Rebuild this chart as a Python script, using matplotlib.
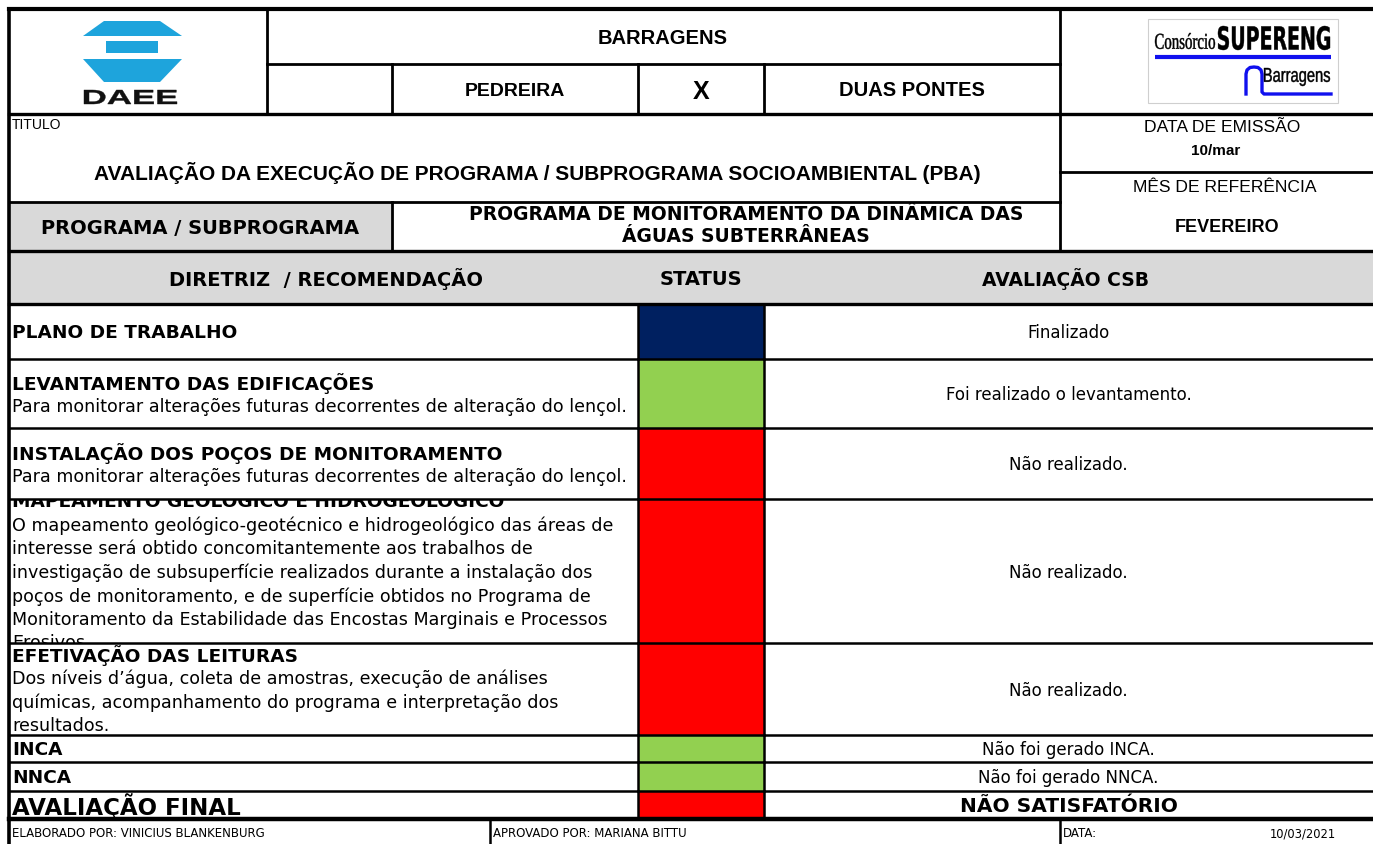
import matplotlib
matplotlib.use("Agg")
import matplotlib.pyplot as plt
from matplotlib.patches import Rectangle, Polygon, PathPatch
from matplotlib.textpath import TextPath
from matplotlib.font_manager import FontProperties
from matplotlib.transforms import Affine2D

plt.rcParams['font.family'] = ['DejaVu Sans']

# dados da ficha
obra = ['PEDREIRA', 'X', 'DUAS PONTES']
titulo = 'AVALIAÇÃO DA EXECUÇÃO DE PROGRAMA / SUBPROGRAMA SOCIOAMBIENTAL (PBA)'
programa = 'PROGRAMA DE MONITORAMENTO DA DINÂMICA DAS\nÁGUAS SUBTERRÂNEAS'
data_emissao = '10/mar'
mes_ref = 'FEVEREIRO'
colunas = ['DIRETRIZ  / RECOMENDAÇÃO', 'STATUS', 'AVALIAÇÃO CSB']

diretrizes = ['PLANO DE TRABALHO',
              'LEVANTAMENTO DAS EDIFICAÇÕES',
              'INSTALAÇÃO DOS POÇOS DE MONITORAMENTO',
              'MAPEAMENTO GEOLÓGICO E HIDROGEOLÓGICO',
              'EFETIVAÇÃO DAS LEITURAS',
              'INCA',
              'NNCA',
              'AVALIAÇÃO FINAL']
descricoes = [[],
              ['Para monitorar alterações futuras decorrentes de alteração do lençol.'],
              ['Para monitorar alterações futuras decorrentes de alteração do lençol.'],
              ['O mapeamento geológico-geotécnico e hidrogeológico das áreas de',
               'interesse será obtido concomitantemente aos trabalhos de',
               'investigação de subsuperfície realizados durante a instalação dos',
               'poços de monitoramento, e de superfície obtidos no Programa de',
               'Monitoramento da Estabilidade das Encostas Marginais e Processos',
               'Erosivos.'],
              ['Dos níveis d’água, coleta de amostras, execução de análises',
               'químicas, acompanhamento do programa e interpretação dos',
               'resultados.'],
              [], [], []]
status = ['#002060', '#92d050', '#ff0000', '#ff0000', '#ff0000',
          '#92d050', '#92d050', '#ff0000']
avaliacao = ['Finalizado',
             'Foi realizado o levantamento.',
             'Não realizado.',
             'Não realizado.',
             'Não realizado.',
             'Não foi gerado INCA.',
             'Não foi gerado NNCA.',
             'NÃO SATISFATÓRIO']
rodape = ['ELABORADO POR: VINICIUS BLANKENBURG', 'APROVADO POR: MARIANA BITTU',
          'DATA:', '10/03/2021']

# layout (pixels)
W, H = 1373, 845
L, R = 9, 1373
c1, c2 = 638, 764
row_y = [305, 360, 429, 500, 644, 736, 763, 792, 820]
ARIAL = 'Liberation Sans'
GRAY = '#d9d9d9'

fig = plt.figure(figsize=(W / 100, H / 100), dpi=100)
ax = fig.add_axes([0, 0, 1, 1])
ax.set_xlim(0, W)
ax.set_ylim(H, 0)
ax.axis('off')


def hline(y, x0, x1, lw=2.0):
    ax.plot([x0, x1], [y, y], color='black', lw=lw, solid_capstyle='projecting', zorder=5)


def vline(x, y0, y1, lw=2.0):
    ax.plot([x, x], [y0, y1], color='black', lw=lw, solid_capstyle='projecting', zorder=5)


def fit_text(s, x0, x1, ybase, height, family, weight='normal', color='black'):
    tp = TextPath((0, 0), s, size=100, prop=FontProperties(family=family, weight=weight))
    bb = tp.get_extents()
    sx = (x1 - x0) / bb.width
    sy = height / bb.height
    tr = Affine2D().translate(-bb.x0, -bb.y0).scale(sx, -sy).translate(x0, ybase) + ax.transData
    ax.add_patch(PathPatch(tp, transform=tr, fc=color, ec=color, lw=0.3, zorder=6))


# fundos cinza
ax.add_patch(Rectangle((L, 203), 392 - L, 49, fc=GRAY, ec='none'))
ax.add_patch(Rectangle((L, 252), R - L, 53, fc=GRAY, ec='none'))

# cabeçalho
hline(10, L, R, 3)
hline(65, 267, 1060)
hline(115, L, R, 2.4)
hline(173, 1060, R)
hline(203, L, 1060)
hline(252, L, R, 2.4)
hline(305, L, R, 2.4)
vline(L, 10, H, 2.6)
vline(267, 10, 115)
vline(392, 65, 115)
vline(c1, 65, 115)
vline(c2, 65, 115)
vline(1060, 10, 252)
vline(392, 203, 252)

# logo DAEE
blue = '#1ea4dc'
ax.add_patch(Polygon([(104, 22), (160, 22), (182, 37), (83, 37)], fc=blue, ec='none'))
ax.add_patch(Polygon([(106, 42), (158, 42), (158, 54), (106, 54)], fc=blue, ec='none'))
ax.add_patch(Polygon([(83, 60), (182, 60), (160, 83), (104, 83)], fc=blue, ec='none'))
fit_text('DAEE', 84, 177, 105, 14, ARIAL, 'bold', '#111111')

# logo consórcio
ax.add_patch(Rectangle((1148, 20), 190, 84, fc='white', ec='#cfcfcf', lw=0.8))
fit_text('Consórcio', 1155, 1215, 50, 16, 'Liberation Serif')
fit_text('SUPERENG', 1218, 1330, 51, 24, 'DejaVu Sans', 'bold')
ax.plot([1155, 1331], [58, 58], color='#1010ee', lw=3, solid_capstyle='butt')
ax.plot([1246, 1246, 1247, 1250, 1254, 1258, 1261, 1262, 1262, 1264, 1331],
        [95, 75, 71, 68.5, 68, 68.5, 71, 75, 93, 95, 95], color='#1010ee', lw=2.4)
fit_text('Barragens', 1264, 1330, 87, 18, ARIAL)

ax.text(663, 38, 'BARRAGENS', ha='center', va='center', fontsize=14.5, weight='bold', family=ARIAL)
ax.text(515, 91, obra[0], ha='center', va='center', fontsize=14, weight='bold', family=ARIAL)
ax.text(701, 92, obra[1], ha='center', va='center', fontsize=18, weight='bold', family=ARIAL)
ax.text(912, 91, obra[2], ha='center', va='center', fontsize=14.5, weight='bold', family=ARIAL)

ax.text(12, 125, 'TITULO', ha='left', va='center', fontsize=10, family=ARIAL)
ax.text(537, 173, titulo, ha='center', va='center', fontsize=15, weight='bold', family=ARIAL)
ax.text(1222, 128, 'DATA DE EMISSÃO', ha='center', va='center', fontsize=12.6, family=ARIAL)
ax.text(1216, 151, data_emissao, ha='center', va='center', fontsize=11, weight='bold', family=ARIAL)
ax.text(1225, 187, 'MÊS DE REFERÊNCIA', ha='center', va='center', fontsize=12.6, family=ARIAL)
ax.text(1227, 227, mes_ref, ha='center', va='center', fontsize=13, weight='bold', family=ARIAL)

ax.text(200, 228, 'PROGRAMA / SUBPROGRAMA', ha='center', va='center', fontsize=14, weight='bold')
ax.text(746, 226, programa, ha='center', va='center', fontsize=13.5, weight='bold', linespacing=1.2)

ax.text(326, 279, colunas[0], ha='center', va='center', fontsize=14, weight='bold')
ax.text(701, 280, colunas[1], ha='center', va='center', fontsize=14, weight='bold')
ax.text(1066, 279, colunas[2], ha='center', va='center', fontsize=13.5, weight='bold')

# linhas da tabela (texto centrado na vertical, cortado pela célula como no Excel)
for i, (tit, desc, cor, aval) in enumerate(zip(diretrizes, descricoes, status, avaliacao)):
    y0, y1 = row_y[i], row_y[i + 1]
    ax.add_patch(Rectangle((c1, y0), c2 - c1, y1 - y0, fc=cor, ec='none', zorder=2))
    clip = Rectangle((L, y0), c1 - L, y1 - y0, transform=ax.transData)
    linhas = [tit] + desc
    n = len(linhas)
    yc = (y0 + y1) / 2 + 1
    final = i == len(diretrizes) - 1
    for j, s in enumerate(linhas):
        y = yc + (j - (n - 1) / 2) * 23.5
        t = ax.text(12, y, s, ha='left', va='center',
                    fontsize=16.5 if final else (13.3 if j == 0 else 12.6),
                    weight='bold' if j == 0 else 'normal', zorder=3, clip_on=True)
        t.set_clip_path(clip)
    ax.text((c2 + R) / 2, yc, aval, ha='center', va='center',
            fontsize=14.5 if final else 12, weight='bold' if final else 'normal')
    hline(y1, L, R, 3.2 if final else 1.8)
    vline(c1, y0, y1, 1.8)
    vline(c2, y0, y1, 1.8)

# rodapé
vline(490, 820, H, 1.8)
vline(1060, 820, H, 1.8)
ax.text(12, 834, rodape[0], ha='left', va='center', fontsize=8.5)
ax.text(493, 834, rodape[1], ha='left', va='center', fontsize=8.5)
ax.text(1063, 834, rodape[2], ha='left', va='center', fontsize=8.5)
ax.text(1270, 834, rodape[3], ha='left', va='center', fontsize=8.3)

fig.savefig('out.png', dpi=100)
